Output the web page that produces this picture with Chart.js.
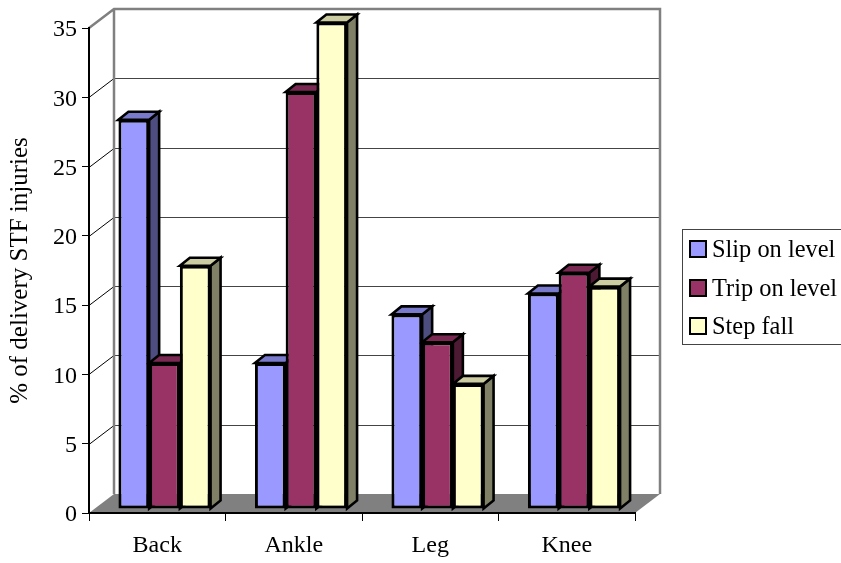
<!DOCTYPE html>
<html lang="en">
<head>
<meta charset="UTF-8">
<title>Delivery STF injuries</title>
<style>
  html, body { margin: 0; padding: 0; background: #fff; overflow: hidden; }
  #wrap { position: relative; width: 841px; height: 563px; font-family: "Liberation Serif", serif; color: #000; }
  #legend { position: absolute; left: 682px; top: 229px; width: 170px; height: 114px; border: 1px solid #444; box-sizing: content-box; }
  .row { position: absolute; left: 6px; height: 20px; font-size: 24.4px; line-height: 20px; white-space: nowrap; }
  .row i { position: absolute; left: 0; top: 0; width: 14px; height: 14px; border: 2px solid #000; }
  .row span { position: absolute; left: 23px; top: -1px; }
</style>
</head>
<body>
<div id="wrap">
  <canvas id="chart" width="841" height="563"></canvas>
  <div id="legend"></div>
</div>
<script src="https://cdnjs.cloudflare.com/ajax/libs/Chart.js/4.4.1/chart.umd.js"></script>
<script>
const categories = ['Back', 'Ankle', 'Leg', 'Knee'];
const seriesNames = ['Slip on level', 'Trip on level', 'Step fall'];
const slipOnLevel = [28, 10.5, 14, 15.5];
const tripOnLevel = [10.5, 30, 12, 17];
const stepFall = [17.5, 35, 9, 16];
const yTicks = [0, 5, 10, 15, 20, 25, 30, 35];

const frontColors = ['#9999FF', '#993366', '#FFFFCC'];
const sideColors = ['#4D4D80', '#4D1A33', '#808066'];
const topColors = ['#7A7ACC', '#7A2952', '#CCCCA3'];

const FONT = '"Liberation Serif", serif';
const DEPTH_X = 25, DEPTH_Y = 19;       // wall offset from the front axes
const BAR_DX = 10, BAR_DY = 8;          // depth of one bar
const SHIFT_X = 7.25, SHIFT_Y = 4;      // bars stand a little inside the floor
const STRETCH = 1.003;

function poly(ctx, pts, fill, stroke, lw) {
  ctx.beginPath();
  pts.forEach((p, i) => i ? ctx.lineTo(p[0], p[1]) : ctx.moveTo(p[0], p[1]));
  ctx.closePath();
  if (fill) { ctx.fillStyle = fill; ctx.fill(); }
  if (stroke) { ctx.strokeStyle = stroke; ctx.lineWidth = lw; ctx.lineJoin = 'miter'; ctx.stroke(); }
}

function line(ctx, x1, y1, x2, y2, color, lw) {
  ctx.beginPath();
  ctx.moveTo(x1, y1);
  ctx.lineTo(x2, y2);
  ctx.strokeStyle = color;
  ctx.lineWidth = lw;
  ctx.stroke();
}

const walls = {
  id: 'walls',
  beforeDraw(chart) {
    const { ctx, chartArea: a, scales: { y } } = chart;
    const top = y.getPixelForValue(35), base = y.getPixelForValue(0);
    ctx.save();
    // floor
    poly(ctx, [[a.left, base], [a.left + DEPTH_X, base - DEPTH_Y], [a.right + DEPTH_X, base - DEPTH_Y], [a.right, base]], '#808080');
    // grid lines on the left and back wall
    yTicks.slice(1, -1).forEach(v => {
      const py = Math.round(y.getPixelForValue(v)) + 0.5;
      line(ctx, a.left, py, a.left + DEPTH_X, py - DEPTH_Y, '#000', 1);
      line(ctx, a.left + DEPTH_X, py - DEPTH_Y, a.right + DEPTH_X, py - DEPTH_Y, '#444', 1);
    });
    // wall frame
    ctx.beginPath();
    ctx.moveTo(a.left, top);
    ctx.lineTo(a.left + DEPTH_X, top - DEPTH_Y);
    ctx.lineTo(a.right + DEPTH_X, top - DEPTH_Y);
    ctx.lineTo(a.right + DEPTH_X, base - DEPTH_Y);
    ctx.moveTo(a.left + DEPTH_X, top - DEPTH_Y);
    ctx.lineTo(a.left + DEPTH_X, base - DEPTH_Y);
    ctx.strokeStyle = '#808080';
    ctx.lineWidth = 2.5;
    ctx.stroke();
    ctx.restore();
  },
  beforeDatasetsDraw(chart) {
    const { ctx, scales: { y } } = chart;
    const base = y.getPixelForValue(0);
    ctx.save();
    // move and stretch the bars about the baseline, the axes stay put
    ctx.translate(SHIFT_X, -SHIFT_Y);
    ctx.translate(0, base);
    ctx.scale(1, STRETCH);
    ctx.translate(0, -base);
    chart.data.datasets.forEach((ds, i) => {
      chart.getDatasetMeta(i).data.forEach(bar => {
        const l = bar.x - bar.width / 2, r = bar.x + bar.width / 2;
        const t = bar.y, b = bar.base;
        poly(ctx, [[r, t], [r + BAR_DX, t - BAR_DY], [r + BAR_DX, b - BAR_DY], [r, b]], sideColors[i], '#000', 2.6);
        poly(ctx, [[l, t], [l + BAR_DX, t - BAR_DY], [r + BAR_DX, t - BAR_DY], [r, t]], topColors[i], '#000', 2.6);
      });
    });
  },
  afterDatasetsDraw(chart) {
    chart.ctx.restore();
  }
};

const allSeries = [slipOnLevel, tripOnLevel, stepFall];

new Chart(document.getElementById('chart'), {
  type: 'bar',
  data: {
    labels: categories,
    datasets: allSeries.map((values, i) => ({
      label: seriesNames[i],
      data: values,
      backgroundColor: frontColors[i],
      borderColor: '#000',
      borderWidth: 3,
      borderSkipped: false,
      categoryPercentage: 0.675,
      barPercentage: 1
    }))
  },
  options: {
    responsive: false,
    animation: false,
    layout: { padding: { top: 28, right: 206, left: 0, bottom: 0 } },
    plugins: { legend: { display: false }, tooltip: { enabled: false } },
    scales: {
      x: {
        grid: { offset: true, drawOnChartArea: false, color: '#000', tickLength: 8 },
        border: { color: '#000', width: 2 },
        ticks: { color: '#000', padding: 10, maxRotation: 0, font: { family: FONT, size: 24 } },
        afterFit(s) { s.height = 50; }
      },
      y: {
        min: 0,
        max: 35,
        afterBuildTicks(s) { s.ticks = yTicks.map(v => ({ value: v })); },
        grid: { drawOnChartArea: false, color: '#000', tickLength: 7 },
        border: { color: '#000', width: 2 },
        ticks: { color: '#000', padding: 5, labelOffset: 2, font: { family: FONT, size: 24 } },
        title: {
          display: true,
          text: '% of delivery STF injuries',
          color: '#000',
          padding: { top: 5, bottom: 0 },
          font: { family: FONT, size: 25 }
        },
        afterFit(s) { s.width = 89; }
      }
    }
  },
  plugins: [walls]
});

seriesNames.forEach((name, i) => {
  const row = document.createElement('div');
  row.className = 'row';
  row.style.top = (10 + i * 38.5) + 'px';
  const box = document.createElement('i');
  box.style.background = frontColors[i];
  const text = document.createElement('span');
  text.textContent = name;
  row.append(box, text);
  document.getElementById('legend').append(row);
});
</script>
</body>
</html>
